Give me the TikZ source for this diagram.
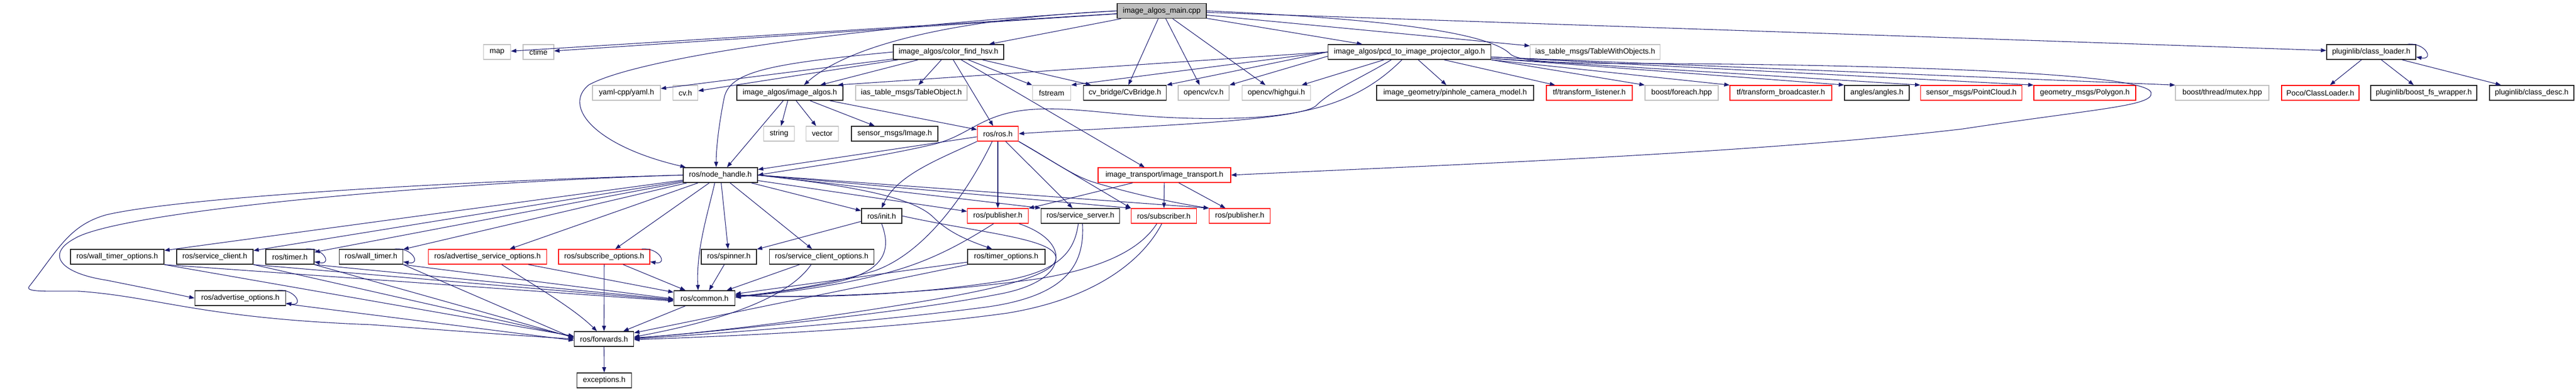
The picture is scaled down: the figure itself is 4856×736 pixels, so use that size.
\documentclass[tikz,border=0pt]{standalone}
\usepackage{fontspec}
\setmainfont{Liberation Sans}
\usetikzlibrary{arrows.meta}
\definecolor{edgec}{HTML}{191970}
\definecolor{grayb}{HTML}{BFBFBF}
\definecolor{redb}{HTML}{FF0000}
\definecolor{darkb}{HTML}{202020}
\newcommand\nf{\fontsize{10.7pt}{12pt}\selectfont}
\tikzset{
  nb/.style={rectangle, inner sep=0pt, minimum height=21pt, font=\nf, line width=1pt, text=black},
  bk/.style={nb, draw=darkb, line width=1.2pt},
  gr/.style={nb, draw=grayb},
  rd/.style={nb, draw=redb},
  rt/.style={nb, draw=darkb, line width=1.2pt, fill=grayb},
  wd/.style={minimum width={#1*0.75pt}},
  e/.style={draw=edgec, line width=0.8pt, -{Triangle[length=7.5pt,width=5.5pt]}},
}
\newcommand\sloop[1]{\draw[e] ([xshift=-12pt]#1.north east) .. controls +(34,-3) and +(34,6) .. ([yshift=4pt]#1.south east);}
\begin{document}
\begin{tikzpicture}[x=0.75pt,y=-0.75pt]
\useasboundingbox (0,0) rectangle (4856,736);
% row 1
\node[rt, wd=168] (root) at (2190,20.5) {image\_algos\_main.cpp};
% row 2
\node[gr, wd=51] (map) at (937,98) {map};
\node[gr, wd=58] (ctime) at (1015,98) {ctime};
\node[bk, wd=208] (cfh) at (1788,98) {image\_algos/color\_find\_hsv.h};
\node[bk, wd=307] (pcd) at (2657,98) {image\_algos/pcd\_to\_image\_projector\_algo.h};
\node[gr, wd=245] (two) at (3007,98) {ias\_table\_msgs/TableWithObjects.h};
\node[bk, wd=168] (cl) at (4470,98) {pluginlib/class\_loader.h};
% row 3
\node[gr, wd=128] (yaml) at (1181,175) {yaml-cpp/yaml.h};
\node[gr, wd=47] (cvh) at (1292,175) {cv.h};
\node[bk, wd=200] (ia) at (1489,175) {image\_algos/image\_algos.h};
\node[gr, wd=210] (tob) at (1718,175) {ias\_table\_msgs/TableObject.h};
\node[gr, wd=72] (fst) at (1982.5,175) {fstream};
\node[bk, wd=156] (cvb) at (2120.5,175) {cv\_bridge/CvBridge.h};
\node[gr, wd=96] (ocv) at (2269,175) {opencv/cv.h};
\node[gr, wd=129] (hg) at (2406,175) {opencv/highgui.h};
\node[bk, wd=296] (pin) at (2743,175) {image\_geometry/pinhole\_camera\_model.h};
\node[rd, wd=162] (tfl) at (2996,175) {tf/transform\_listener.h};
\node[gr, wd=138] (fe) at (3170,175) {boost/foreach.hpp};
\node[rd, wd=192] (tfb) at (3357,175) {tf/transform\_broadcaster.h};
\node[bk, wd=122] (ang) at (3538,175) {angles/angles.h};
\node[rd, wd=191] (pc) at (3716,175) {sensor\_msgs/PointCloud.h};
\node[rd, wd=192] (poly) at (3930,175) {geometry\_msgs/Polygon.h};
\node[gr, wd=176] (mtx) at (4189,175) {boost/thread/mutex.hpp};
\node[rd, wd=146] (poco) at (4374,175) {Poco/ClassLoader.h};
\node[bk, wd=200] (bfs) at (4569,175) {pluginlib/boost\_fs\_wrapper.h};
\node[bk, wd=159] (cd) at (4772.5,175) {pluginlib/class\_desc.h};
% row 4
\node[gr, wd=58] (str) at (1468.5,252) {string};
\node[gr, wd=61] (vec) at (1550,252) {vector};
\node[bk, wd=163] (img) at (1686.6,252) {sensor\_msgs/Image.h};
\node[rd, wd=77.5] (ros) at (1881,252) {ros/ros.h};
% row 5
\node[bk, wd=140] (nh) at (1358,330) {ros/node\_handle.h};
\node[rd, wd=250] (it) at (2195,330) {image\_transport/image\_transport.h};
% row 6
\node[bk, wd=76] (init) at (1662,407) {ros/init.h};
\node[rd, wd=115] (pubA) at (1881,407) {ros/publisher.h};
\node[bk, wd=148] (ss) at (2036.6,407) {ros/service\_server.h};
\node[rd, wd=123] (sub) at (2194,407) {ros/subscriber.h};
\node[rd, wd=115] (pubB) at (2337,407) {ros/publisher.h};
% row 7
\node[bk, wd=176] (wto) at (221,484) {ros/wall\_timer\_options.h};
\node[bk, wd=144] (sc) at (405,484) {ros/service\_client.h};
\node[bk, wd=91] (tm) at (546.4,484) {ros/timer.h};
\node[bk, wd=120] (wt) at (699.5,484) {ros/wall\_timer.h};
\node[rd, wd=223] (aso) at (919,484) {ros/advertise\_service\_options.h};
\node[rd, wd=172] (so) at (1139,484) {ros/subscribe\_options.h};
\node[bk, wd=104] (sp) at (1374,484) {ros/spinner.h};
\node[bk, wd=197] (sco) at (1549,484) {ros/service\_client\_options.h};
\node[bk, wd=146] (to) at (1896.7,484) {ros/timer\_options.h};
% row 8
\node[bk, wd=171] (ao) at (453,562) {ros/advertise\_options.h};
\node[bk, wd=115] (cm) at (1328,562) {ros/common.h};
% row 9, 10
\node[bk, wd=112] (fw) at (1138.6,639) {ros/forwards.h};
\node[bk, wd=103] (ex) at (1139,717) {exceptions.h};

% ---- edges from root
\draw[e] (root) -- (map);
\draw[e] (root) -- (ctime);
\draw[e] (root.west) .. controls (1600,50) and (1200,110) .. (1110,160) .. controls (1060,200) and (1120,275) .. ([xshift=4pt]nh.north west);
\draw[e] (root.west) .. controls (1800,35) and (1600,85) .. ([xshift=20pt]ia.north);
\draw[e] (root) -- (cfh);
\draw[e] (root) -- (cvb);
\draw[e] (root) -- (ocv);
\draw[e] (root) -- (hg);
\draw[e] (root) -- (pcd);
\draw[e] (root) -- (two);
\draw[e] (root) -- (cl);
\draw[e] (root.east) .. controls (2600,35) and (2800,60) .. (2845,100) .. controls (2860,118) and (2950,120) .. (3150,120) .. controls (3500,122) and (4050,135) .. (4055,175) .. controls (4060,200) and (3950,205) .. (3700,243) .. controls (3300,290) and (2700,312) .. (it.east);

% ---- color_find_hsv
\draw[e] (cfh) -- (yaml);
\draw[e] (cfh) -- (cvh);
\draw[e] (cfh.west) .. controls (1450,120) and (1375,135) .. (1365,185) .. controls (1355,235) and (1350,280) .. ([xshift=-6pt]nh.north);
\draw[e] (cfh) -- (ia);
\draw[e] (cfh) -- (tob);
\draw[e] (cfh) -- (ros);
\draw[e] ([xshift=18pt]cfh.south) -- ([xshift=-28pt]it.north);
\draw[e] (cfh) -- (fst);
\draw[e] (cfh) -- (cvb);

% ---- image_algos.h
\draw[e] (ia) -- (str);
\draw[e] (ia) -- (vec);
\draw[e] (ia) -- (img);
\draw[e] (ia) -- (ros);
\draw[e] (ia) -- (nh);

% ---- pcd_to_image_projector_algo.h
\draw[e] (pcd.west) -- ([xshift=-8pt]ia.north east);
\draw[e] (pcd.west) -- (fst.north east);
\draw[e] (pcd.west) -- (cvb.north east);
\draw[e] ([yshift=-6pt]pcd.west) -- (ocv.north east);
\draw[e] (pcd) -- (hg);
\draw[e] ([xshift=90pt]pcd.south west) .. controls (2560,150) and (2510,170) .. (2480,200) .. controls (2440,230) and (2100,240) .. (ros.east);
\draw[e] ([xshift=105pt]pcd.south west) .. controls (2580,175) and (2500,215) .. (2350,222) .. controls (2150,230) and (2050,200) .. (1950,206) .. controls (1850,212) and (1830,255) .. (1760,272) .. controls (1650,298) and (1500,318) .. (nh.east);
\draw[e] (pcd) -- (pin);
\draw[e] (pcd) -- (tfl);
\draw[e] (pcd.south east) -- (fe.north west);
\draw[e] (pcd.south east) -- (tfb.north west);
\draw[e] ([yshift=2pt]pcd.south east) -- (ang.north west);
\draw[e] ([yshift=2pt]pcd.south east) -- (pc.north west);
\draw[e] ([yshift=4pt]pcd.south east) -- (poly.north west);
\draw[e] ([yshift=4pt]pcd.south east) -- (mtx.north west);

% ---- pluginlib/class_loader.h
\sloop{cl}
\draw[e] (cl) -- (poco);
\draw[e] (cl) -- (bfs);
\draw[e] (cl) -- (cd);

% ---- ros/ros.h
\draw[e] (ros) -- (nh);
\draw[e] (ros.south west) .. controls (1770,300) and (1690,330) .. (init.north);
\draw[e] (ros) -- (pubA);
\draw[e] (ros) -- (ss);
\draw[e] (ros.south east) -- (sub.north west);
\draw[e] (ros.south east) .. controls (1980,300) and (2020,330) .. (2060,343) .. controls (2150,370) and (2230,385) .. (pubB.north west);
\draw[e] ([xshift=-8pt]ros.south) .. controls (1840,330) and (1760,470) .. (1650,510) .. controls (1550,540) and (1450,552) .. ([yshift=2pt]cm.east);

% ---- image_transport
\draw[e] (it) -- (sub);
\draw[e] (it) -- (pubB);
\draw[e] (it) -- (pubA);

% ---- ros/node_handle.h
\draw[e] (nh.west) .. controls (900,340) and (350,370) .. (200,405) .. controls (130,425) and (110,470) .. (55,540) .. controls (45,552) and (100,548) .. (150,549) .. controls (300,560) and (380,600) .. (700,612) .. controls (900,627) and (1000,634) .. (fw.west);
\draw[e] (nh.west) .. controls (800,345) and (220,400) .. (140,450) .. controls (85,480) and (115,515) .. (200,528) .. controls (270,542) and (320,552) .. (ao.west);
\draw[e] (nh) -- (wto);
\draw[e] (nh) -- (sc);
\draw[e] (nh) -- (tm);
\draw[e] (nh) -- (wt);
\draw[e] (nh) -- (aso);
\draw[e] (nh) -- (so);
\draw[e] ([xshift=-8pt]nh.south) .. controls (1335,400) and (1312,470) .. ([xshift=-9pt]cm.north);
\draw[e] (nh) -- (sp);
\draw[e] (nh) -- (sco);
\draw[e] (nh) -- (init);
\draw[e] (nh) -- (pubA);
\draw[e] (nh.east) -- (ss.north west);
\draw[e] (nh.east) -- (sub.north west);
\draw[e] (nh.east) -- (pubB.north west);
\draw[e] (nh.east) .. controls (1600,350) and (1720,370) .. (1760,410) .. controls (1790,440) and (1830,455) .. ([xshift=-20pt]to.north);

% ---- ros/init.h
\draw[e] (init) -- (sp);
\draw[e] (init.south) .. controls (1680,470) and (1672,515) .. (1560,535) .. controls (1480,550) and (1420,556) .. ([yshift=1pt]cm.east);
\draw[e] (init.east) .. controls (1850,440) and (2000,450) .. (1990,490) .. controls (1980,530) and (1800,560) .. (1600,590) .. controls (1400,620) and (1250,634) .. ([yshift=2pt]fw.east);

% ---- publisher A
\draw[e] ([xshift=-6pt]pubA.south) .. controls (1820,455) and (1760,490) .. (1680,512) .. controls (1580,540) and (1450,556) .. ([yshift=3pt]cm.east);
\draw[e] ([xshift=30pt]pubA.south) .. controls (2020,455) and (2020,530) .. (1880,555) .. controls (1700,590) and (1350,625) .. ([yshift=1pt]fw.east);

% ---- service server
\draw[e] ([xshift=-3pt]ss.south) .. controls (2025,480) and (1990,510) .. (1900,528) .. controls (1700,560) and (1500,562) .. ([yshift=4pt]cm.east);
\draw[e] ([xshift=3pt]ss.south) .. controls (2045,500) and (2010,560) .. (1850,580) .. controls (1600,612) and (1300,632) .. (fw.east);

% ---- subscriber
\draw[e] ([xshift=-10pt]sub.south) .. controls (2150,470) and (2080,505) .. (1960,525) .. controls (1750,555) and (1500,563) .. ([yshift=5pt]cm.east);
\draw[e] ([xshift=-3pt]sub.south) .. controls (2160,480) and (2080,560) .. (1900,590) .. controls (1650,625) and (1300,636) .. ([yshift=-1pt]fw.east);

% ---- timer options, service client options, spinner
\draw[e] (to) -- (cm);
\draw[e] (to) -- (fw);
\draw[e] (sco) -- (cm);
\draw[e] ([xshift=-15pt]sco.south) .. controls (1480,570) and (1330,610) .. ([yshift=3pt]fw.east);
\draw[e] (sp) -- (cm);

% ---- left row 7 nodes
\sloop{so}
\draw[e] (so) -- (fw);
\draw[e] (so) -- (cm);
\draw[e] (aso) -- (cm);
\draw[e] ([xshift=20pt]aso.south) .. controls (1010,540) and (1080,580) .. ([xshift=-10pt]fw.north);
\sloop{wt}
\draw[e] (wt.south east) -- ([yshift=-1pt]cm.west);
\draw[e] (wt.south east) -- ([yshift=1pt]fw.west);
\sloop{tm}
\draw[e] (tm.south east) -- ([yshift=-2pt]cm.west);
\draw[e] (tm.south east) -- ([yshift=2pt]fw.west);
\draw[e] (sc.south east) -- ([yshift=-3pt]cm.west);
\draw[e] (sc.south east) -- ([yshift=3pt]fw.west);
\draw[e] (wto.south east) -- ([yshift=-4pt]cm.west);
\draw[e] (wto.south east) -- ([yshift=4pt]fw.west);
\sloop{ao}
\draw[e] (ao) -- ([yshift=-2pt]fw.west);

% ---- common, forwards
\draw[e] (cm) -- (fw);
\draw[e] (fw) -- (ex);
\end{tikzpicture}
\end{document}
